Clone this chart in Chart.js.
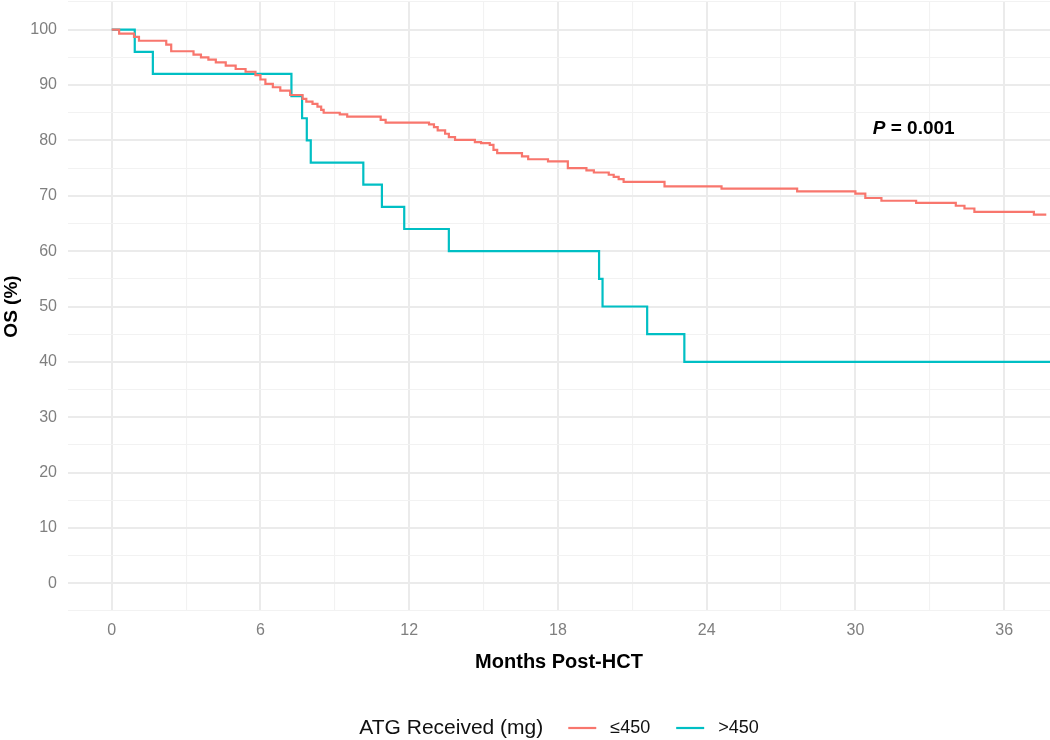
<!DOCTYPE html>
<html>
<head>
<meta charset="utf-8">
<script src="https://cdn.jsdelivr.net/npm/chart.js@4"></script>
<style>
  html, body { margin: 0; padding: 0; background: #fff; }
  #wrap { width: 1050px; height: 740px; }
</style>
</head>
<body>
<div id="wrap"><canvas id="km"></canvas></div>
<script>
// Kaplan-Meier steps: month of each drop and the survival (%) after it
const lowTimes = [0, 0.3, 0.9, 1.1, 2.2, 2.4, 3.3, 3.6, 3.9, 4.2, 4.6, 5.0, 5.4, 5.8, 6.0, 6.2, 6.5, 6.8, 7.2, 7.7, 7.85,
  8.1, 8.3, 8.45, 8.55, 9.2, 9.5, 10.85, 11.05, 12.8, 13.0, 13.15, 13.45, 13.6, 13.85, 14.65, 14.9, 15.25, 15.4,
  15.55, 16.55, 16.8, 17.6, 18.4, 19.15, 19.45, 20.05, 20.25, 20.45, 20.65, 22.3, 24.6, 27.65, 30.0, 30.4, 31.05,
  32.45, 34.05, 34.4, 34.8, 37.2, 37.7];
const lowSurv = [100, 99.3, 98.7, 98.0, 97.3, 96.1, 95.5, 95.0, 94.6, 94.1, 93.5, 92.9, 92.4, 91.8, 91.0, 90.2, 89.6, 89.0,
  88.2, 87.5, 87.0, 86.6, 86.1, 85.5, 85.0, 84.7, 84.3, 83.7, 83.2, 82.9, 82.4, 81.8, 81.2, 80.6, 80.1, 79.7, 79.5,
  79.2, 78.3, 77.7, 77.1, 76.6, 76.2, 75.0, 74.6, 74.2, 73.8, 73.4, 73.0, 72.5, 71.7, 71.3, 70.8, 70.4, 69.6, 69.1,
  68.7, 68.2, 67.7, 67.1, 66.6, 66.6];

const highTimes = [0, 0.93, 1.66, 7.25, 7.68, 7.87, 8.03, 10.15, 10.9, 11.8, 13.6, 19.66, 19.8, 21.6, 23.1, 37.85];
const highSurv = [100, 96, 92, 88, 84, 80, 76, 72, 68, 64, 60, 55, 50, 45, 40, 40];

const groupLabels = ['≤450', '>450'];
const groupColors = ['#F8766D', '#00BFC4'];

const xTicks = [0, 3, 6, 9, 12, 15, 18, 21, 24, 27, 30, 33, 36];
const yTicks = [-5, 0, 5, 10, 15, 20, 25, 30, 35, 40, 45, 50, 55, 60, 65, 70, 75, 80, 85, 90, 95, 100, 105];

const pValueText = '0.001';
const pValuePos = { x: 30.7, y: 82.1 };

const FONT = '"Liberation Sans", Arial, sans-serif';

function toPoints(times, surv) {
  return times.map((t, i) => ({ x: t, y: surv[i] }));
}

// grid lines: majors thicker than minors
function gridWidth(ctx, step) {
  const v = ctx.tick ? ctx.tick.value : 0;
  return v % step === 0 ? 2 : 1.1;
}
function gridColor(ctx, step) {
  const v = ctx.tick ? ctx.tick.value : 0;
  return v % step === 0 ? '#ebebeb' : '#f2f2f2';
}

// P-value and the bottom legend
const extrasPlugin = {
  id: 'extras',
  afterDraw(chart) {
    const ctx = chart.ctx;
    const xs = chart.scales.x, ys = chart.scales.y;
    ctx.save();

    // P = 0.001
    let px = xs.getPixelForValue(pValuePos.x);
    const py = ys.getPixelForValue(pValuePos.y);
    ctx.fillStyle = '#000';
    ctx.textBaseline = 'middle';
    ctx.textAlign = 'left';
    ctx.font = 'italic bold 19px ' + FONT;
    ctx.fillText('P', px, py);
    px += ctx.measureText('P').width;
    ctx.font = 'bold 19px ' + FONT;
    ctx.fillText(' = ' + pValueText, px, py);

    // legend
    const ly = 728;
    const title = 'ATG Received (mg)';
    ctx.font = '21px ' + FONT;
    const titleW = ctx.measureText(title).width;
    ctx.font = '18px ' + FONT;
    const lineW = 28;
    const itemW = chart.data.datasets.map(d => lineW + 14 + ctx.measureText(d.label).width);
    const total = titleW + 25 + itemW[0] + 26 + itemW[1];
    const area = chart.chartArea;
    let lx = (area.left + area.right) / 2 - total / 2;
    ctx.fillStyle = '#111';
    ctx.font = '21px ' + FONT;
    ctx.fillText(title, lx, ly);
    ctx.font = '18px ' + FONT;
    lx += titleW + 25;
    chart.data.datasets.forEach((d, i) => {
      ctx.strokeStyle = d.borderColor;
      ctx.lineWidth = 2.2;
      ctx.beginPath();
      ctx.moveTo(lx, ly);
      ctx.lineTo(lx + lineW, ly);
      ctx.stroke();
      ctx.fillStyle = '#111';
      ctx.fillText(d.label, lx + lineW + 14, ly);
      lx += itemW[i] + 26;
    });
    ctx.restore();
  }
};

new Chart(document.getElementById('km'), {
  type: 'line',
  data: {
    datasets: [
      {
        label: groupLabels[0],
        data: toPoints(lowTimes, lowSurv),
        borderColor: groupColors[0],
        backgroundColor: groupColors[0],
        borderWidth: 2.2,
        stepped: 'before',
        pointRadius: 0,
        fill: false
      },
      {
        label: groupLabels[1],
        data: toPoints(highTimes, highSurv),
        borderColor: groupColors[1],
        backgroundColor: groupColors[1],
        borderWidth: 2.2,
        stepped: 'before',
        pointRadius: 0,
        fill: false
      }
    ]
  },
  options: {
    responsive: true,
    maintainAspectRatio: false,
    animation: false,
    layout: { padding: { top: 2, right: 0, left: 0, bottom: 66 } },
    plugins: {
      legend: { display: false },
      tooltip: { enabled: false }
    },
    scales: {
      x: {
        type: 'linear',
        min: -1.763,
        max: 37.85,
        afterBuildTicks: scale => { scale.ticks = xTicks.map(v => ({ value: v })); },
        afterFit: scale => {
          scale.height = 63;
          scale.paddingLeft = 0;
          scale.paddingRight = 0;
        },
        border: { display: false },
        grid: {
          drawTicks: false,
          lineWidth: ctx => gridWidth(ctx, 6),
          color: ctx => gridColor(ctx, 6)
        },
        ticks: {
          autoSkip: false,
          maxRotation: 0,
          padding: 10,
          color: '#7f7f7f',
          font: { size: 16, family: FONT },
          callback: v => (v % 6 === 0 ? String(v) : '')
        },
        title: {
          display: true,
          text: 'Months Post-HCT',
          color: '#000',
          padding: { top: 0, bottom: 0 },
          font: { size: 20, weight: 'bold', family: FONT }
        }
      },
      y: {
        type: 'linear',
        min: -5,
        max: 105,
        afterBuildTicks: scale => { scale.ticks = yTicks.map(v => ({ value: v })); },
        afterFit: scale => {
          scale.width = 68;
          scale.paddingTop = 0;
          scale.paddingBottom = 0;
        },
        border: { display: false },
        grid: {
          drawTicks: false,
          lineWidth: ctx => gridWidth(ctx, 10),
          color: ctx => gridColor(ctx, 10)
        },
        ticks: {
          autoSkip: false,
          padding: 11,
          color: '#7f7f7f',
          font: { size: 16, family: FONT },
          callback: v => (v % 10 === 0 && v >= 0 && v <= 100 ? String(v) : '')
        },
        title: {
          display: true,
          text: 'OS (%)',
          color: '#000',
          padding: { top: 0, bottom: 0 },
          font: { size: 19, weight: 'bold', family: FONT }
        }
      }
    }
  },
  plugins: [extrasPlugin]
});
</script>
</body>
</html>
